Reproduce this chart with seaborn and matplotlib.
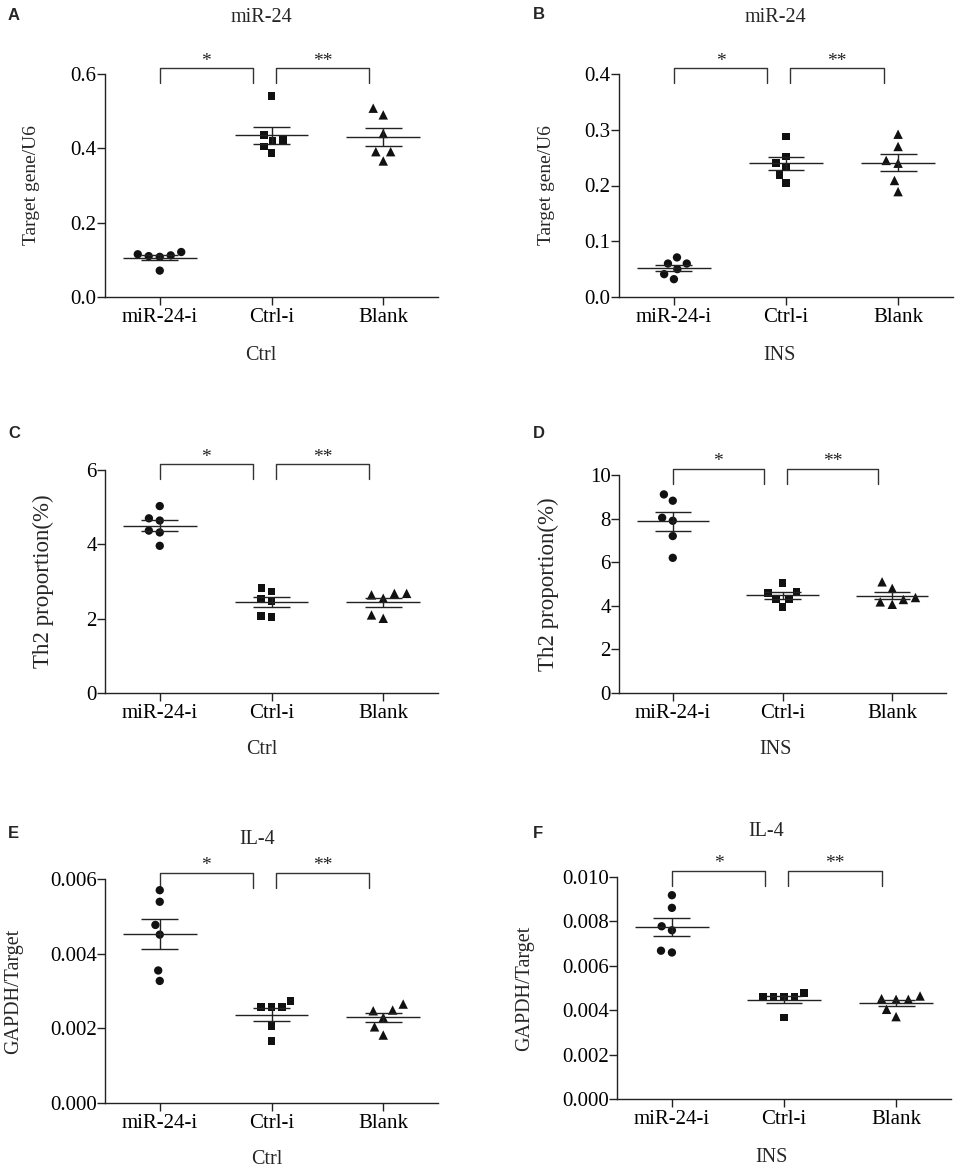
import matplotlib
matplotlib.use("Agg")
import numpy as np
import pandas as pd
import matplotlib.pyplot as plt
import seaborn as sns

sns.set_theme(style="ticks")
plt.rcParams["font.family"] = ["Liberation Serif", "DejaVu Serif"]
plt.rcParams["axes.linewidth"] = 1.0
plt.rcParams["axes.edgecolor"] = "#222222"

W, H = 957, 1172

groups = ["miR-24-i", "Ctrl-i", "Blank"]
markers = ["o", "s", "^"]
msizes = [6.0, 5.6, 6.8]

# A: miR-24 / U6, Ctrl
a_mir = [0.115, 0.110, 0.108, 0.112, 0.121, 0.071]
a_ctrl = [0.541, 0.435, 0.422, 0.420, 0.405, 0.387]
a_blank = [0.508, 0.490, 0.440, 0.391, 0.391, 0.366]

# B: miR-24 / U6, INS
b_mir = [0.071, 0.060, 0.060, 0.050, 0.041, 0.032]
b_ctrl = [0.288, 0.252, 0.241, 0.234, 0.219, 0.205]
b_blank = [0.292, 0.270, 0.245, 0.240, 0.209, 0.189]

# C: Th2 proportion, Ctrl
c_mir = [5.03, 4.70, 4.64, 4.37, 4.32, 3.96]
c_ctrl = [2.82, 2.73, 2.53, 2.46, 2.05, 2.07]
c_blank = [2.68, 2.64, 2.68, 2.55, 2.01, 2.10]

# D: Th2 proportion, INS
d_mir = [9.11, 8.82, 8.04, 7.90, 7.20, 6.20]
d_ctrl = [5.05, 4.63, 4.60, 4.32, 4.32, 3.95]
d_blank = [5.10, 4.80, 4.38, 4.29, 4.18, 4.07]

# E: IL-4 GAPDH/Target, Ctrl
e_mir = [0.00570, 0.00539, 0.00477, 0.00451, 0.00355, 0.00327]
e_ctrl = [0.00274, 0.00258, 0.00257, 0.00258, 0.00207, 0.00166]
e_blank = [0.00265, 0.00247, 0.00249, 0.00229, 0.00204, 0.00182]

# F: IL-4 GAPDH/Target, INS
f_mir = [0.00918, 0.00861, 0.00778, 0.00760, 0.00660, 0.00668]
f_ctrl = [0.00476, 0.00461, 0.00461, 0.00458, 0.00461, 0.00367]
f_blank = [0.00464, 0.00449, 0.00449, 0.00452, 0.00404, 0.00371]

a_yticks = [0.0, 0.2, 0.4, 0.6]
b_yticks = [0.0, 0.1, 0.2, 0.3, 0.4]
c_yticks = [0, 2, 4, 6]
d_yticks = [0, 2, 4, 6, 8, 10]
e_yticks = [0.000, 0.002, 0.004, 0.006]
f_yticks = [0.000, 0.002, 0.004, 0.006, 0.008, 0.010]

panels = [
    dict(letter="A", vals=(a_mir, a_ctrl, a_blank), yticks=a_yticks, fmt="{:.1f}",
         title="miR-24", ylabel="Target gene/U6", xlabel="Ctrl",
         box=(105, 74, 438, 297), let=(8, 8), tpos=(261, 18), xlpos=(261, 355),
         ylx=-0.195, ylfs=14),
    dict(letter="B", vals=(b_mir, b_ctrl, b_blank), yticks=b_yticks, fmt="{:.1f}",
         title="miR-24", ylabel="Target gene/U6", xlabel="INS",
         box=(619, 74, 953, 297), let=(533, 7), tpos=(775, 18), xlpos=(780, 355),
         ylx=-0.192, ylfs=14),
    dict(letter="C", vals=(c_mir, c_ctrl, c_blank), yticks=c_yticks, fmt="{:.0f}",
         title=None, ylabel="Th2 proportion(%)", xlabel="Ctrl",
         box=(105, 470, 438, 693), let=(8, 426), tpos=None, xlpos=(262, 750),
         ylx=-0.153, ylfs=16.5),
    dict(letter="D", vals=(d_mir, d_ctrl, d_blank), yticks=d_yticks, fmt="{:.0f}",
         title=None, ylabel="Th2 proportion(%)", xlabel="INS",
         box=(619, 475, 946, 693), let=(533, 426), tpos=None, xlpos=(775, 750),
         ylx=-0.183, ylfs=16.5),
    dict(letter="E", vals=(e_mir, e_ctrl, e_blank), yticks=e_yticks, fmt="{:.3f}",
         title="IL-4", ylabel="GAPDH/Target", xlabel="Ctrl",
         box=(105, 879, 438, 1103), let=(8, 826), tpos=(257, 840), xlpos=(267, 1160),
         ylx=-0.246, ylfs=14.5),
    dict(letter="F", vals=(f_mir, f_ctrl, f_blank), yticks=f_yticks, fmt="{:.3f}",
         title="IL-4", ylabel="GAPDH/Target", xlabel="INS",
         box=(617, 877, 951, 1099), let=(533, 826), tpos=(766, 832), xlpos=(772, 1158),
         ylx=-0.249, ylfs=14.5),
]

fig = plt.figure(figsize=(W / 100, H / 100), dpi=100)
line_c = "#222222"

for p in panels:
    l, t, r, b = p["box"]
    ax = fig.add_axes([l / W, 1 - b / H, (r - l) / W, (b - t) / H])
    hpx = b - t

    df = pd.DataFrame({
        "group": np.repeat(groups, [len(v) for v in p["vals"]]),
        "value": np.concatenate(p["vals"]),
    })

    # invisible edge widens the swarm spacing (GraphPad-like gaps)
    for g, m, ms in zip(groups, markers, msizes):
        sns.swarmplot(data=df[df["group"] == g], x="group", y="value", order=groups,
                      marker=m, color="#111111", size=ms, linewidth=1.6,
                      edgecolor="none", ax=ax)

    stats = df.groupby("group", sort=False)["value"].agg(["mean", "sem"])
    for i, g in enumerate(groups):
        mu, se = stats.loc[g, "mean"], stats.loc[g, "sem"]
        ax.hlines(mu, i - 0.33, i + 0.33, color=line_c, lw=1.0, zorder=3)
        ax.hlines([mu - se, mu + se], i - 0.165, i + 0.165, color=line_c, lw=1.0, zorder=3)
        ax.vlines(i, mu - se, mu + se, color=line_c, lw=1.0, zorder=3)

    ax.set_xlim(-0.49, 2.49)
    ax.set_ylim(p["yticks"][0], p["yticks"][-1])
    ax.set_yticks(p["yticks"])
    ax.set_yticklabels([p["fmt"].format(v) for v in p["yticks"]])
    ax.set_xticks(range(len(groups)))
    ax.set_xticklabels(groups)
    ax.set_xlabel("")
    ax.set_ylabel(p["ylabel"], fontsize=p["ylfs"])
    ax.yaxis.set_label_coords(p["ylx"], 0.5)
    ax.tick_params(axis="both", direction="out", length=6, width=1.0,
                   color=line_c, labelsize=15, labelcolor="black")
    ax.tick_params(axis="y", pad=0)
    ax.tick_params(axis="x", pad=2)
    sns.despine(ax=ax)

    # significance brackets
    tr = ax.get_xaxis_transform()
    y_top = 1 + 6 / hpx
    y_leg = 1 - 9 / hpx
    y_star = 1 + 13 / hpx
    for (x0, x1), s in [((0.0, 0.83), "*"), ((1.04, 1.87), "**")]:
        ax.plot([x0, x0, x1, x1], [y_leg, y_top, y_top, y_leg], color="#333333",
                lw=1.0, transform=tr, clip_on=False)
        ax.text((x0 + x1) / 2, y_star, s, ha="center", va="center", fontsize=14,
                transform=tr, color="#222222")

    fig.text(p["let"][0] / W, 1 - p["let"][1] / H, p["letter"], ha="left", va="top",
             fontsize=12, fontweight="bold", family="Liberation Sans")
    if p["title"]:
        fig.text(p["tpos"][0] / W, 1 - p["tpos"][1] / H, p["title"], ha="center",
                 va="center", fontsize=14.5)
    fig.text(p["xlpos"][0] / W, 1 - p["xlpos"][1] / H, p["xlabel"], ha="center",
             va="center", fontsize=14.5)

fig.savefig("out.png", dpi=100)
